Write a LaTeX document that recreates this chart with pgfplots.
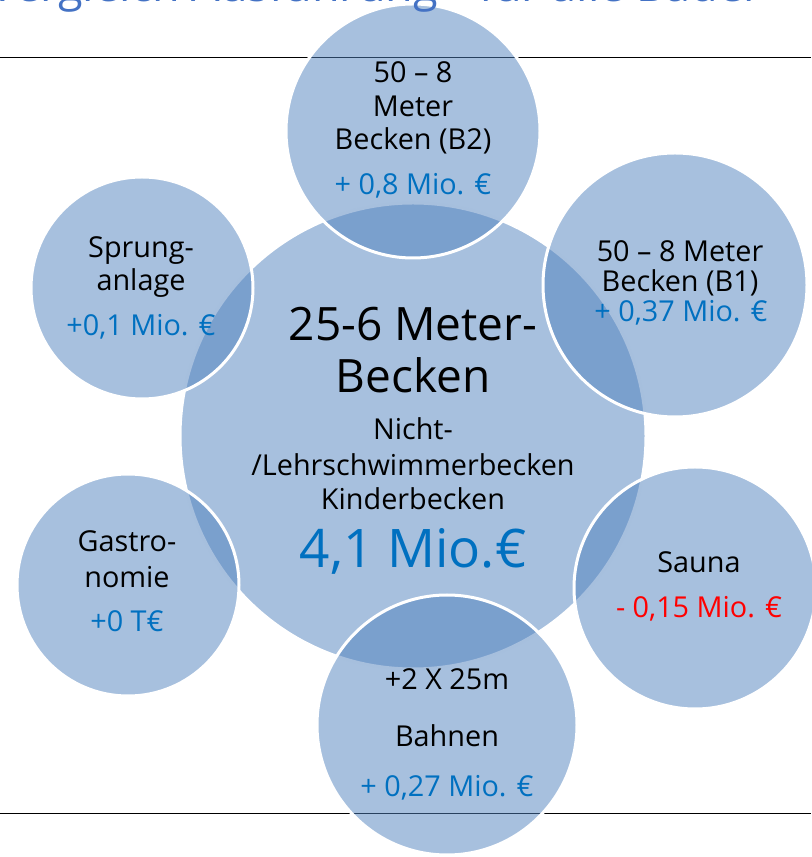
\documentclass[border=0pt]{standalone}
\usepackage{pgfplots}
\usepackage{pgfplotstable}
\pgfplotsset{compat=1.18}
\usepackage{fontspec}
\setmainfont{Open Sans}
\definecolor{accent}{HTML}{4F81BD}
\definecolor{valblue}{HTML}{0070C0}
\definecolor{titleblue}{HTML}{4472C4}
\definecolor{valred}{HTML}{FF0000}
\pgfplotstableread{
x y r
413 436 233
413 131 127
675 285 132
695 588 121
447 725 130
128 585 111
142 288 111
}\circles
\newcommand{\sm}{\fontsize{14.4}{17}\selectfont}
\begin{document}
\begin{tikzpicture}[every node/.append style={text opacity=1, fill opacity=1, draw opacity=1}]
\begin{axis}[
  set layers=standard,
  scale only axis, width=405.5pt, height=428.5pt,
  xmin=0, xmax=811, ymin=0, ymax=857, y dir=reverse,
  hide axis, clip=true,
]
% horizontal rules
\addplot[black, line width=0.8pt] coordinates {(0,57.5) (811,57.5)};
\addplot[black, line width=0.8pt] coordinates {(0,813.5) (811,813.5)};
% circles
\addplot[scatter, only marks, mark=*,
  scatter/use mapped color={draw=white, fill=accent},
  mark options={line width=1.5pt, fill opacity=0.5, draw opacity=1},
  visualization depends on={0.5*\thisrow{r} \as \rad},
  scatter/@pre marker code/.append style={/tikz/mark size=\rad}]
  table[x=x, y=y]{\circles};
\begin{pgfonlayer}{axis foreground}
% centre texts
\node[anchor=base, font=\fontsize{23}{23}\selectfont] at (axis cs:413,341) {25-6 Meter-};
\node[anchor=base, font=\fontsize{23}{23}\selectfont] at (axis cs:413,393) {Becken};
\node[anchor=base, font=\sm] at (axis cs:413,440) {Nicht-};
\node[anchor=base, font=\sm] at (axis cs:413,476) {/Lehrschwimmerbecken};
\node[anchor=base, font=\sm] at (axis cs:413,510) {Kinderbecken};
\node[anchor=base, font=\fontsize{26.6}{27}\selectfont, text=valblue] at (axis cs:413,568) {4,1 Mio.€};
% B2
\node[anchor=base, font=\sm] at (axis cs:413,83) {50 – 8};
\node[anchor=base, font=\sm] at (axis cs:413,117) {Meter};
\node[anchor=base, font=\sm] at (axis cs:413,150) {Becken (B2)};
\node[anchor=base, font=\sm, text=valblue] at (axis cs:413,195) {+ 0,8 Mio. €};
% B1
\node[anchor=base, font=\sm] at (axis cs:680,262) {50 – 8 Meter};
\node[anchor=base, font=\sm] at (axis cs:680,292) {Becken (B1)};
\node[anchor=base, font=\sm, text=valblue] at (axis cs:681,322) {+ 0,37 Mio. €};
% Sprung
\node[anchor=base, font=\sm] at (axis cs:141,258) {Sprung-};
\node[anchor=base, font=\sm] at (axis cs:141,291) {anlage};
\node[anchor=base, font=\sm, text=valblue] at (axis cs:141,336) {+0,1 Mio. €};
% Gastro
\node[anchor=base, font=\sm] at (axis cs:127,552) {Gastro-};
\node[anchor=base, font=\sm] at (axis cs:127,588) {nomie};
\node[anchor=base, font=\sm, text=valblue] at (axis cs:127,632) {+0 T€};
% Sauna
\node[anchor=base, font=\sm] at (axis cs:699,573) {Sauna};
\node[anchor=base, font=\sm, text=valred] at (axis cs:699,618) {- 0,15 Mio. €};
% Bahnen
\node[anchor=base, font=\sm] at (axis cs:447,690) {+2 X 25m};
\node[anchor=base, font=\sm] at (axis cs:447,747) {Bahnen};
\node[anchor=base, font=\sm, text=valblue] at (axis cs:447,797) {+ 0,27 Mio. €};
% cut-off slide title
\node[anchor=base east, font=\fontsize{22.5}{23}\selectfont, text=titleblue] at (axis cs:445,1.5) {Vergleich Ausführung};
\node[anchor=base west, font=\fontsize{22.5}{23}\selectfont, text=titleblue] at (axis cs:472,1.5) {für alle Bäder};
\end{pgfonlayer}
\end{axis}
\pgfresetboundingbox
\useasboundingbox (current axis.south west) rectangle (current axis.north east);
\end{tikzpicture}
\end{document}
